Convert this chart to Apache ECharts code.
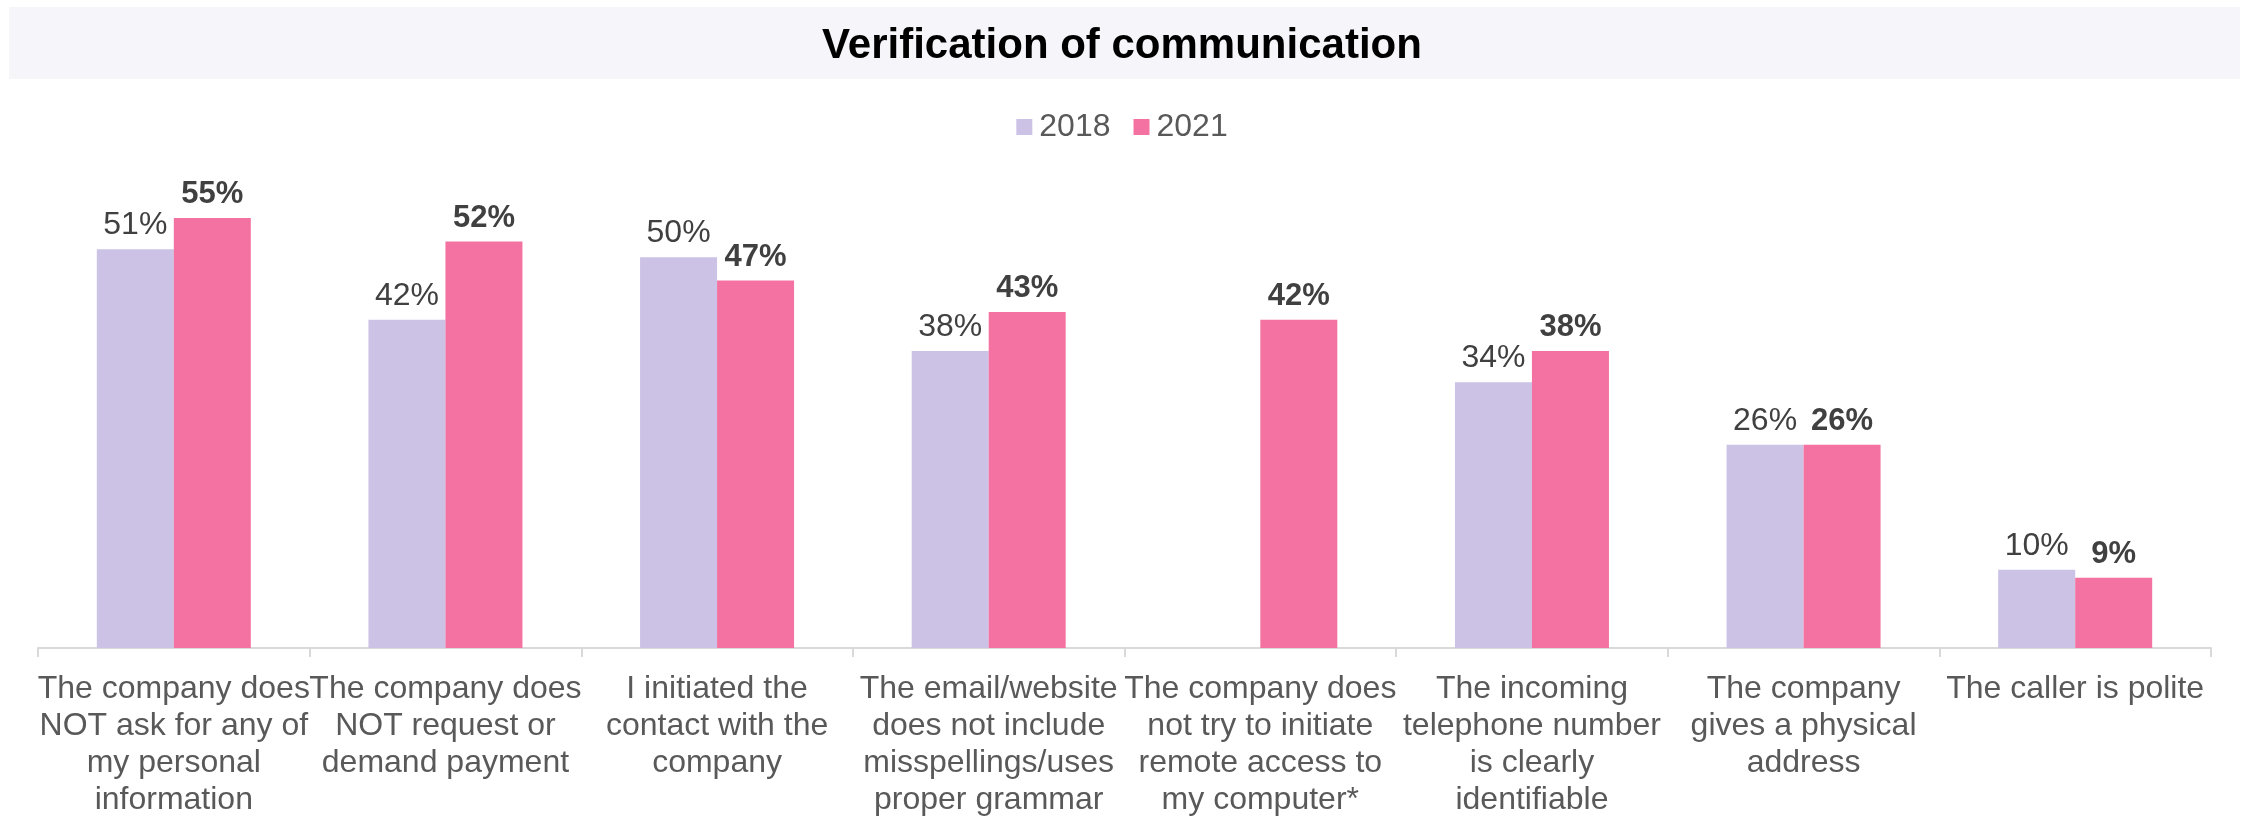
<!DOCTYPE html>
<html>
<head>
<meta charset="utf-8">
<script src="https://cdn.jsdelivr.net/npm/echarts@6/dist/echarts.min.js"></script>
<style>
  html, body { margin: 0; padding: 0; background: #fff; }
  #chart { width: 2244px; height: 819px; }
</style>
</head>
<body>
<div id="chart"></div>
<script>
var categories = [
    "The company does\nNOT ask for any of\nmy personal\ninformation",
    "The company does\nNOT request or\ndemand payment",
    "I initiated the\ncontact with the\ncompany",
    "The email/website\ndoes not include\nmisspellings/uses\nproper grammar",
    "The company does\nnot try to initiate\nremote access to\nmy computer*",
    "The incoming\ntelephone number\nis clearly\nidentifiable",
    "The company\ngives a physical\naddress",
    "The caller is polite"
]

var years = ['2018', '2021']
var values2018 = [51, 42, 50, 38, '-', 34, 26, 10]
var values2021 = [55, 52, 47, 43, 42, 38, 26, 9]

var font = '"Liberation Sans", Arial, sans-serif'

var chart = echarts.init(document.getElementById('chart'), null, { renderer: 'canvas' })

chart.setOption({
    animation: false,
    backgroundColor: '#ffffff',
    // grey band behind the title
    graphic: [{
        type: 'rect',
        z: -1,
        shape: { x: 9, y: 7, width: 2231, height: 72 },
        style: { fill: '#f5f5fa' }
    }],
    title: {
        text: 'Verification of communication',
        left: 'center',
        top: 20,
        textStyle: {
            fontFamily: font,
            fontSize: 42,
            fontWeight: 'bold',
            color: '#000000'
        }
    },
    legend: {
        top: 106,
        left: 'center',
        itemWidth: 16,
        itemHeight: 16,
        itemGap: 23,
        icon: 'rect',
        data: years,
        textStyle: {
            fontFamily: font,
            fontSize: 32,
            color: '#595959',
            padding: [0, 0, 0, 2]
        }
    },
    grid: {
        left: 38,
        right: 33,
        top: 179,
        bottom: 163,
        containLabel: false
    },
    xAxis: {
        type: 'category',
        data: categories,
        axisLine: { lineStyle: { color: '#d9d9d9', width: 2 } },
        axisTick: { show: true, length: 9, lineStyle: { color: '#d9d9d9', width: 2 } },
        axisLabel: {
            interval: 0,
            margin: 23,
            fontFamily: font,
            fontSize: 32,
            lineHeight: 37,
            color: '#595959'
        }
    },
    yAxis: {
        type: 'value',
        min: 0,
        max: 60,
        show: false,
        splitLine: { show: false }
    },
    series: [
        {
            name: years[0],
            type: 'bar',
            barWidth: 77,
            barGap: '0%',
            itemStyle: { color: '#cbc2e6' },
            label: {
                show: true,
                position: 'top',
                distance: 8,
                formatter: '{c}%',
                fontFamily: font,
                fontSize: 32,
                color: '#404040'
            },
            data: values2018
        },
        {
            name: years[1],
            type: 'bar',
            barWidth: 77,
            barGap: '0%',
            itemStyle: { color: '#f472a1' },
            label: {
                show: true,
                position: 'top',
                distance: 8,
                formatter: '{c}%',
                fontFamily: font,
                fontSize: 31,
                fontWeight: 'bold',
                color: '#404040'
            },
            data: values2021
        }
    ]
})
</script>
</body>
</html>
